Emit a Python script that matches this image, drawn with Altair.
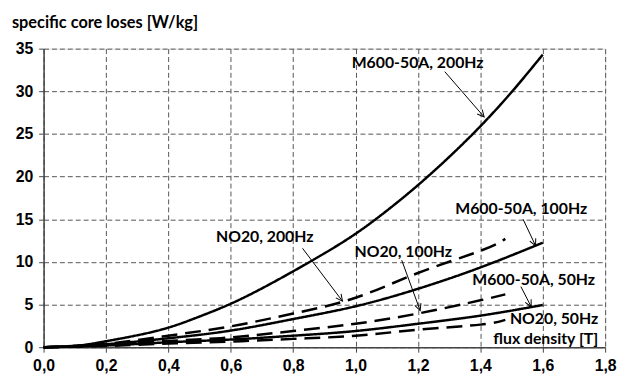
import math
import altair as alt
import pandas as pd

# ---- data ----
x_solid = [0.0, 0.1, 0.2, 0.3, 0.4, 0.5, 0.6, 0.7, 0.8, 0.9, 1.0, 1.1, 1.2, 1.3, 1.4, 1.5, 1.6]
m600_200 = [0.0, 0.15, 0.7, 1.4, 2.3, 3.6, 5.1, 6.9, 8.9, 11.0, 13.3, 16.0, 19.0, 22.3, 25.9, 29.9, 34.3]

x_m600 = [0.0, 0.2, 0.4, 0.6, 0.8, 1.0, 1.2, 1.4, 1.6]
m600_100 = [0.0, 0.35, 1.05, 1.95, 3.3, 4.8, 6.85, 9.35, 12.25]
m600_50 = [0.0, 0.2, 0.58, 0.9, 1.35, 1.9, 2.75, 3.7, 4.95]

x_no20 = [0.0, 0.2, 0.4, 0.6, 0.8, 1.0, 1.2, 1.4, 1.48]
no20_200 = [0.0, 0.4, 1.35, 2.45, 3.95, 5.8, 8.7, 11.3, 12.7]
no20_100 = [0.0, 0.25, 0.74, 1.15, 1.9, 2.75, 3.95, 5.5, 6.2]
no20_50 = [0.0, 0.15, 0.43, 0.66, 0.98, 1.35, 2.05, 2.65, 3.2]

label_text = ["M600-50A, 200Hz", "M600-50A, 100Hz", "NO20, 200Hz", "NO20, 100Hz", "M600-50A, 50Hz"]
label_x = [1.199, 1.531, 0.709, 1.153, 1.571]
label_y = [33.3, 16.2, 12.96, 11.17, 7.92]

rlabel_text = ["NO20, 50Hz", "flux density [T]"]
rlabel_x = [1.778, 1.778]
rlabel_y = [3.36, 0.96]

arrow_x1 = [1.286, 1.537, 0.830, 1.148, 1.530]
arrow_y1 = [32.3, 15.0, 11.6, 10.2, 7.1]
arrow_x2 = [1.412, 1.577, 0.958, 1.207, 1.563]
arrow_y2 = [27.0, 11.9, 5.4, 4.3, 4.75]

x_ticks = [0.0, 0.2, 0.4, 0.6, 0.8, 1.0, 1.2, 1.4, 1.6, 1.8]
y_ticks = [0, 5, 10, 15, 20, 25, 30, 35]

# ---- layout ----
W, H = 568, 302
X_MAX, Y_MAX = 1.8, 35
PX_X = W / X_MAX
PX_Y = H / Y_MAX

rows = []
for name, xs, ys, style in [
    ("M600-50A, 200Hz", x_solid, m600_200, "solid"),
    ("M600-50A, 100Hz", x_m600, m600_100, "solid"),
    ("M600-50A, 50Hz", x_m600, m600_50, "solid"),
    ("NO20, 200Hz", x_no20, no20_200, "dashed"),
    ("NO20, 100Hz", x_no20, no20_100, "dashed"),
    ("NO20, 50Hz", x_no20, no20_50, "dashed"),
]:
    for i, (xv, yv) in enumerate(zip(xs, ys)):
        rows.append({"series": name, "B": xv, "P": yv, "style": style, "i": i})
lines_df = pd.DataFrame(rows)

angles = []
for a, b, c, d in zip(arrow_x1, arrow_y1, arrow_x2, arrow_y2):
    sx = (c - a) * PX_X
    sy = -(d - b) * PX_Y
    ang = math.degrees(math.atan2(sx, -sy)) % 360
    angles.append(ang)
arrows_df = pd.DataFrame({"x1": arrow_x1, "y1": arrow_y1, "x2": arrow_x2, "y2": arrow_y2, "angle": angles})
labels_df = pd.DataFrame({"t": label_text, "x": label_x, "y": label_y})
rlabels_df = pd.DataFrame({"t": rlabel_text, "x": rlabel_x, "y": rlabel_y})

xscale = alt.Scale(domain=[0, X_MAX], nice=False, zero=False)
yscale = alt.Scale(domain=[0, Y_MAX], nice=False)

xaxis = alt.Axis(values=x_ticks, title=None, grid=True,
                 labelExpr="replace(format(datum.value, '.1f'), '.', ',')",
                 labelFont="Liberation Sans", labelFontWeight="bold", labelFontSize=16,
                 labelColor="black", labelPadding=6, tickSize=5, tickColor="#444",
                 domainColor="#444", domainWidth=1.5, gridColor="#555", gridDash=[5, 3],
                 gridWidth=1, labelFlush=False)
yaxis = alt.Axis(values=y_ticks, title=None, grid=True,
                 labelFont="Liberation Sans", labelFontWeight="bold", labelFontSize=16,
                 labelColor="black", labelPadding=6, tickSize=5, tickColor="#444",
                 domainColor="#444", domainWidth=1.5, gridColor="#555", gridDash=[5, 3],
                 gridWidth=1)

lines = alt.Chart(lines_df).mark_line(interpolate="natural", strokeWidth=2.5, color="black").encode(
    x=alt.X("B:Q", scale=xscale, axis=xaxis),
    y=alt.Y("P:Q", scale=yscale, axis=yaxis),
    detail="series:N",
    order="i:Q",
    strokeDash=alt.StrokeDash("style:N",
                              scale=alt.Scale(domain=["solid", "dashed"], range=[[1, 0], [16, 8]]),
                              legend=None),
)

shafts = alt.Chart(arrows_df).mark_rule(color="black", strokeWidth=1).encode(
    x="x1:Q", y="y1:Q", x2="x2:Q", y2="y2:Q"
)
heads = alt.Chart(arrows_df).mark_point(
    shape="M-0.5,1L0,0L0.5,1", filled=False, color="black", strokeWidth=1, size=180, opacity=1
).encode(
    x="x2:Q", y="y2:Q", angle=alt.Angle("angle:Q", scale=None)
)

labels = alt.Chart(labels_df).mark_text(
    font="Lato", fontWeight="bold", fontSize=16, color="black", align="center", baseline="middle"
).encode(x="x:Q", y="y:Q", text="t:N")
rlabels = alt.Chart(rlabels_df).mark_text(
    font="Lato", fontWeight="bold", fontSize=16, color="black", align="right", baseline="middle"
).encode(x="x:Q", y="y:Q", text="t:N")

chart = alt.layer(lines, shafts, heads, labels, rlabels).properties(
    width=W, height=H,
    autosize=alt.AutoSizeParams(type="none"),
    padding={"left": 36, "top": 39, "right": 12, "bottom": 28},
    title=alt.TitleParams("specific core loses [W/kg]", anchor="start", frame="group",
                          dx=-32, offset=9, font="Lato", fontWeight="bold", fontSize=16.5,
                          color="black"),
).configure_view(stroke=None).configure(background="white")

chart.save("out.html", embed_options={"renderer": "svg", "actions": False})
